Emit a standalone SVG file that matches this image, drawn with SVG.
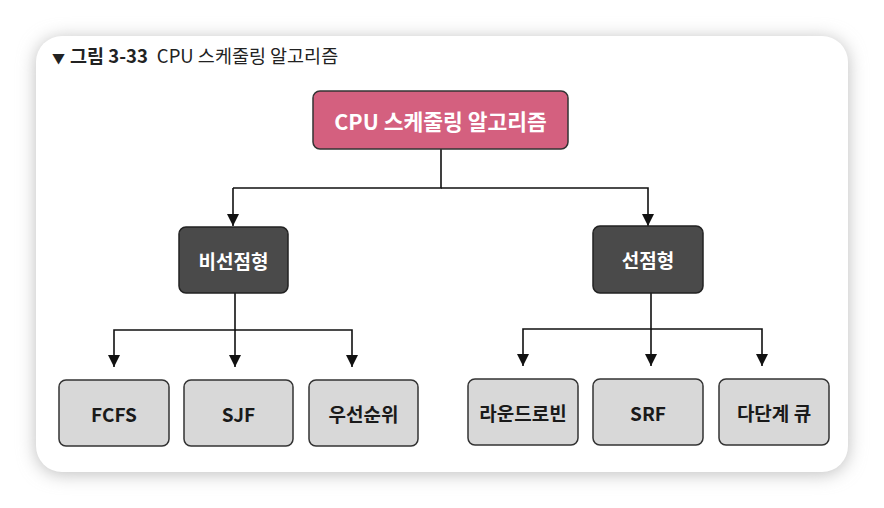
<svg xmlns="http://www.w3.org/2000/svg" width="884" height="508" viewBox="0 0 884 508">
<defs>
<filter id="sh" x="-10%" y="-10%" width="120%" height="120%">
<feGaussianBlur stdDeviation="9"/>
</filter>
<marker id="ar" viewBox="0 0 12 12" refX="12" refY="6" markerWidth="12" markerHeight="12" markerUnits="userSpaceOnUse" orient="auto">
<path d="M0,0 L12,6 L0,12 z" fill="#111"/>
</marker>
</defs>
<style>
.lbl{font-family:"Noto Sans CJK KR","Noto Sans",sans-serif;font-size:19px;font-weight:700;text-anchor:middle;dominant-baseline:central}
.big{font-size:21.5px}
.w{fill:#ffffff}
.k{fill:#1a1a1a}
.leaf{fill:#d8d8d8;stroke:#333;stroke-width:1.5}
.mid{fill:#4a4a4a;stroke:#222;stroke-width:1.5}
.root{fill:#d4607f;stroke:#333;stroke-width:1.5}
.con{fill:none;stroke:#111;stroke-width:1.6}
</style>
<rect width="884" height="508" fill="#ffffff"/>
<rect x="36" y="38" width="812" height="436" rx="26" fill="#bdbdbd" filter="url(#sh)"/>
<rect x="36" y="36" width="812" height="436" rx="26" fill="#ffffff"/>
<text x="52" y="63" font-family="'Noto Sans CJK KR','Noto Sans',sans-serif" font-size="18.5" fill="#222"><tspan font-size="13">▼</tspan><tspan font-weight="700" dx="5">그림 3-33</tspan><tspan dx="9">CPU 스케줄링 알고리즘</tspan></text>
<g id="connectors">
<path class="con" d="M441,149 V188 H233"/>
<path class="con" d="M233,188 V226" marker-end="url(#ar)"/>
<path class="con" d="M441,188 H648 V226" marker-end="url(#ar)"/>
<path class="con" d="M235,293 V330 H114 V367" marker-end="url(#ar)"/>
<path class="con" d="M235,330 V367" marker-end="url(#ar)"/>
<path class="con" d="M235,330 H352 V367" marker-end="url(#ar)"/>
<path class="con" d="M651,293 V329 H523 V366" marker-end="url(#ar)"/>
<path class="con" d="M651,329 V366" marker-end="url(#ar)"/>
<path class="con" d="M651,329 H762 V366" marker-end="url(#ar)"/>
</g>
<g id="root"><rect class="root" x="313" y="91" width="255" height="58" rx="7"/><text class="lbl big w" x="440.5" y="120">CPU 스케줄링 알고리즘</text></g>
<g id="nonpreemptive"><rect class="mid" x="179" y="227" width="109" height="66" rx="7"/><text class="lbl w" x="233.5" y="260">비선점형</text></g>
<g id="preemptive"><rect class="mid" x="593" y="226" width="110" height="67" rx="7"/><text class="lbl w" x="648" y="259">선점형</text></g>
<g id="fcfs"><rect class="leaf" x="59" y="380" width="110" height="66" rx="7"/><text class="lbl k" x="114" y="413">FCFS</text></g>
<g id="sjf"><rect class="leaf" x="184" y="380" width="109" height="66" rx="7"/><text class="lbl k" x="238.5" y="413">SJF</text></g>
<g id="priority"><rect class="leaf" x="309" y="380" width="109" height="66" rx="7"/><text class="lbl k" x="363.5" y="413">우선순위</text></g>
<g id="rr"><rect class="leaf" x="468" y="379" width="110" height="66" rx="7"/><text class="lbl k" x="523" y="412">라운드로빈</text></g>
<g id="srf"><rect class="leaf" x="593" y="379" width="110" height="66" rx="7"/><text class="lbl k" x="648" y="412">SRF</text></g>
<g id="mlq"><rect class="leaf" x="719" y="379" width="110" height="66" rx="7"/><text class="lbl k" x="774" y="412">다단계 큐</text></g>
</svg>
